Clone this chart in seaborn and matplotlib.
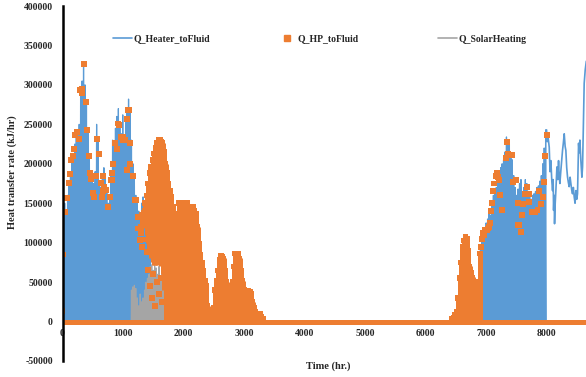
import numpy as np
import matplotlib
matplotlib.use('Agg')
import matplotlib.pyplot as plt
from matplotlib.lines import Line2D
import seaborn as sns

# ---------- Data (values in 1000 kJ/hr) ----------
# Q_Heater_toFluid : daily peaks, first heating season (one value per day from hour 12)
heater_start_1 = 12
heater_peaks_1 = [140, 150, 140, 160, 175, 188, 205, 210, 225, 238,
                  242, 250, 295, 305, 328, 300, 280, 245, 210, 190,
                  182, 175, 190, 250, 232, 175, 170, 185, 195, 180,
                  168, 150, 160, 185, 230, 225, 245, 260, 270, 250,
                  238, 262, 235, 258, 265, 282, 270, 230, 200, 185,
                  160, 150, 140, 130, 150, 158, 150, 160, 172, 150,
                  120]
# second heating season (one value per day from hour 6500)
heater_start_2 = 6500
heater_peaks_2 = [5, 12, 20, 30, 25, 40, 50, 45, 60, 55,
                  40, 30, 20, 15, 10, 30, 60, 90, 105, 112,
                  118, 125, 130, 137, 135, 150, 160, 165, 170, 178,
                  185, 195, 200, 205, 215, 234, 225, 230, 213, 205,
                  185, 170, 160, 168, 175, 180, 165, 170, 180, 175,
                  165, 158, 155, 160, 162, 165, 170, 172, 178, 185,
                  200, 220, 243]
# isolated heater spikes in spring
heater_blip_hours = [2160, 2184, 2208, 2600, 2624, 2860]
heater_blip_k = [105, 95, 40, 18, 14, 10]
# continuous heater output at the end of the year
heater_tail_hours = [8003, 8012, 8025, 8047, 8060, 8074, 8090, 8102, 8112, 8119,
                     8128, 8135, 8146, 8157, 8174, 8188, 8201, 8212, 8223, 8240,
                     8254, 8267, 8280, 8295, 8310, 8322, 8336, 8350, 8364, 8377,
                     8392, 8405, 8420, 8432, 8446, 8460, 8474, 8488, 8502, 8515,
                     8532, 8544, 8554, 8570, 8587, 8598, 8609, 8625, 8642, 8660]
heater_tail_k = [243, 228, 236, 221, 190, 204, 178, 166, 180, 141,
                 160, 124, 150, 166, 196, 180, 204, 185, 175, 192,
                 205, 217, 226, 238, 222, 217, 195, 183, 176, 171,
                 183, 175, 166, 162, 170, 158, 150, 166, 155, 162,
                 226, 214, 230, 204, 183, 196, 238, 302, 319, 330]

# Q_HP_toFluid : single points in winter
hp_pts_hours_1 = [0, 8, 46, 74, 102, 119, 146, 168, 185, 212,
                  240, 268, 295, 322, 327, 350, 383, 405, 433, 455,
                  476, 499, 521, 548, 570, 598, 631, 647, 664, 675,
                  686, 714, 757, 785, 797, 813, 824, 840, 868, 895,
                  923, 934, 961, 994, 1005, 1033, 1061, 1061, 1088, 1094,
                  1116, 1116, 1171, 1198, 1209, 1242, 1253, 1281]
hp_pts_k_1 = [13, 85, 139, 157, 176, 187, 205, 210, 219, 237,
              240, 231, 294, 290, 295, 326, 278, 243, 210, 188,
              181, 163, 158, 185, 231, 212, 176, 158, 184, 166,
              171, 167, 145, 158, 179, 179, 188, 200, 226, 219,
              251, 249, 234, 230, 234, 230, 257, 192, 268, 268,
              226, 200, 185, 154, 154, 132, 118, 103]
# scattered low HP points under the first spring hump
hp_pts_hours_3 = [1300, 1320, 1345, 1370, 1395, 1420, 1450, 1475, 1500, 1530,
                  1560, 1590, 1620, 1650, 1310, 1360, 1410, 1440]
hp_pts_k_3 = [112, 95, 128, 104, 88, 65, 45, 30, 60, 20,
              50, 35, 55, 25, 135, 140, 118, 96]
hp_pts_hours_2 = [6920, 6940, 6955, 6975, 6990, 7011, 7030, 7050, 7066, 7085,
                  7100, 7121, 7140, 7160, 7177, 7200, 7220, 7240, 7259, 7331,
                  7342, 7369, 7425, 7452, 7496, 7524, 7535, 7551, 7579, 7590,
                  7617, 7650, 7673, 7706, 7716, 7760, 7815, 7854, 7882, 7909,
                  7937, 7954, 7980, 8003]
hp_pts_k_2 = [95, 105, 112, 110, 116, 116, 118, 120, 125, 140,
              150, 166, 175, 185, 188, 183, 179, 160, 141, 207,
              228, 213, 211, 177, 179, 150, 122, 122, 113, 135,
              149, 162, 171, 162, 151, 139, 139, 141, 166, 149,
              158, 177, 210, 237]
# dense HP operation: daily peaks and the lowest level of the dense band
hp_start_1 = 1296
hp_peaks_1 = [120, 135, 138, 150, 160, 175, 188, 196, 205, 213,
              220, 226, 230, 230, 228, 226, 215, 200, 188, 175,
              166, 158, 145, 137, 124, 118, 150, 145, 150, 151,
              150, 148, 151, 140, 132, 138, 145, 140, 137, 120,
              99, 85, 75, 65, 52, 45, 20, 10, 15, 10,
              18, 40, 52, 65, 78, 84, 82, 80, 65, 50,
              30, 25, 35, 50, 70, 86, 84, 86, 80, 65,
              52, 40, 30, 35, 39, 38, 35, 25, 18, 12,
              10, 8, 10, 6, 4]
hp_floor_1 = ([110, 118, 120, 125, 110, 100, 90, 80, 75, 72,
               72, 74, 72, 75, 70, 60, 40] + [0] * 68)
hp_start_2 = 6444
hp_peaks_2 = [3, 5, 8, 12, 30, 55, 75, 95, 103, 107,
              105, 90, 70, 62, 56, 40, 25, 18, 50, 86]
hp_off_hours = [0, 8760]
hp_off_k = [0, 0]

# Q_SolarHeating : daily peaks
solar_start = 1140
solar_peaks = [40, 44, 46, 42, 30, 20, 35, 25, 30, 40,
               50, 55, 60, 70, 72, 65, 73, 68, 60, 70,
               55, 62, 50, 45, 30]

BLUE = '#5B9BD5'
ORANGE = '#ED7D31'
GRAY = '#A5A5A5'


def spikes(start, peaks, half=10):
    xs, ys = [], []
    for i, p in enumerate(peaks):
        t = start + 24 * i
        xs += [t - half, t, t + half]
        ys += [0, p * 1000, 0]
    return xs, ys


sns.set_style('white')
plt.rcParams['font.family'] = ['Liberation Serif', 'DejaVu Serif']
plt.rcParams['font.weight'] = 'bold'

fig = plt.figure(figsize=(5.86, 3.77), dpi=100)
ax = fig.add_axes([62.5 / 586, 16 / 377, 523.5 / 586, 355 / 377])

# ---- heater ----
for st, pk in [(heater_start_1, heater_peaks_1), (heater_start_2, heater_peaks_2)]:
    xs, ys = spikes(st, pk)
    sns.lineplot(x=xs, y=ys, ax=ax, sort=False, estimator=None,
                 color=BLUE, lw=0.9, zorder=2)
for h, v in zip(heater_blip_hours, heater_blip_k):
    ax.vlines(h, 0, v * 1000, color=BLUE, lw=1.2, zorder=2)
sns.lineplot(x=heater_tail_hours, y=np.array(heater_tail_k) * 1000, ax=ax,
             sort=False, estimator=None, color=BLUE, lw=1.2, zorder=2)

# ---- solar ----
xs, ys = spikes(solar_start, solar_peaks, half=4)
sns.lineplot(x=xs, y=ys, ax=ax, sort=False, estimator=None,
             color=GRAY, lw=0.8, zorder=3)

# ---- heat pump ----
for st, pk, fl in [(hp_start_1, hp_peaks_1, hp_floor_1),
                   (hp_start_2, hp_peaks_2, [0] * len(hp_peaks_2))]:
    hrs = st + 24 * np.arange(len(pk))
    ax.vlines(hrs, np.array(fl) * 1000, np.array(pk) * 1000,
              color=ORANGE, lw=3.6, zorder=4)
    sns.scatterplot(x=hrs, y=np.array(pk) * 1000, ax=ax, marker='s', s=16,
                    color=ORANGE, edgecolor='none', zorder=4)
for hh, kk in [(hp_pts_hours_1, hp_pts_k_1), (hp_pts_hours_2, hp_pts_k_2),
               (hp_pts_hours_3, hp_pts_k_3)]:
    sns.scatterplot(x=hh, y=np.array(kk) * 1000, ax=ax, marker='s', s=18,
                    color=ORANGE, edgecolor='none', zorder=4)
ax.plot(hp_off_hours, np.array(hp_off_k) * 1000, color=ORANGE, lw=3.6,
        solid_capstyle='butt', zorder=5)

# ---- axes ----
ax.set_xlim(0, 8655)
ax.set_ylim(-50000, 400000)
for s in ['top', 'right']:
    ax.spines[s].set_visible(False)
ax.spines['bottom'].set_position(('data', 0))
ax.spines['bottom'].set_color('none')
ax.spines['left'].set_position(('data', 0))
ax.spines['left'].set_color('black')
ax.spines['left'].set_linewidth(1.8)
ax.spines['left'].set_zorder(6)

ax.set_xticks(range(0, 9000, 1000))
ax.set_xticklabels([str(v) for v in range(0, 9000, 1000)])
ax.set_yticks(range(-50000, 400001, 50000))
ax.set_yticklabels([str(v) for v in range(-50000, 400001, 50000)])
ax.tick_params(axis='both', length=0, labelsize=7)
ax.tick_params(axis='y', pad=7)
ax.tick_params(axis='x', pad=5)

ax.set_xlabel('Time (hr.)', fontsize=7.5, fontweight='bold')
ax.set_ylabel('Heat transfer rate (kJ/hr)', fontsize=7.5, fontweight='bold')
ax.xaxis.set_label_coords(0.507, -0.002)
ax.yaxis.set_label_coords(-0.087, 0.532)
ax.grid(False)

# ---- legend: three separate entries ----
handles = [Line2D([0], [0], color=BLUE, lw=1.2),
           Line2D([0], [0], color=ORANGE, marker='s', ms=3.8, ls='none'),
           Line2D([0], [0], color=GRAY, lw=1.2)]
labels = ['Q_Heater_toFluid', 'Q_HP_toFluid', 'Q_SolarHeating']
starts = [113, 277, 438]
for hnd, lab, xs0 in zip(handles, labels, starts):
    leg = fig.legend([hnd], [lab], loc='center left',
                     bbox_to_anchor=(xs0 / 586, 1 - 39 / 377),
                     frameon=False, borderpad=0, borderaxespad=0,
                     handlelength=2.0, handletextpad=0.15,
                     prop={'family': 'Liberation Serif', 'weight': 'bold', 'size': 7})

fig.savefig('out.png', dpi=100)
plt.close(fig)
